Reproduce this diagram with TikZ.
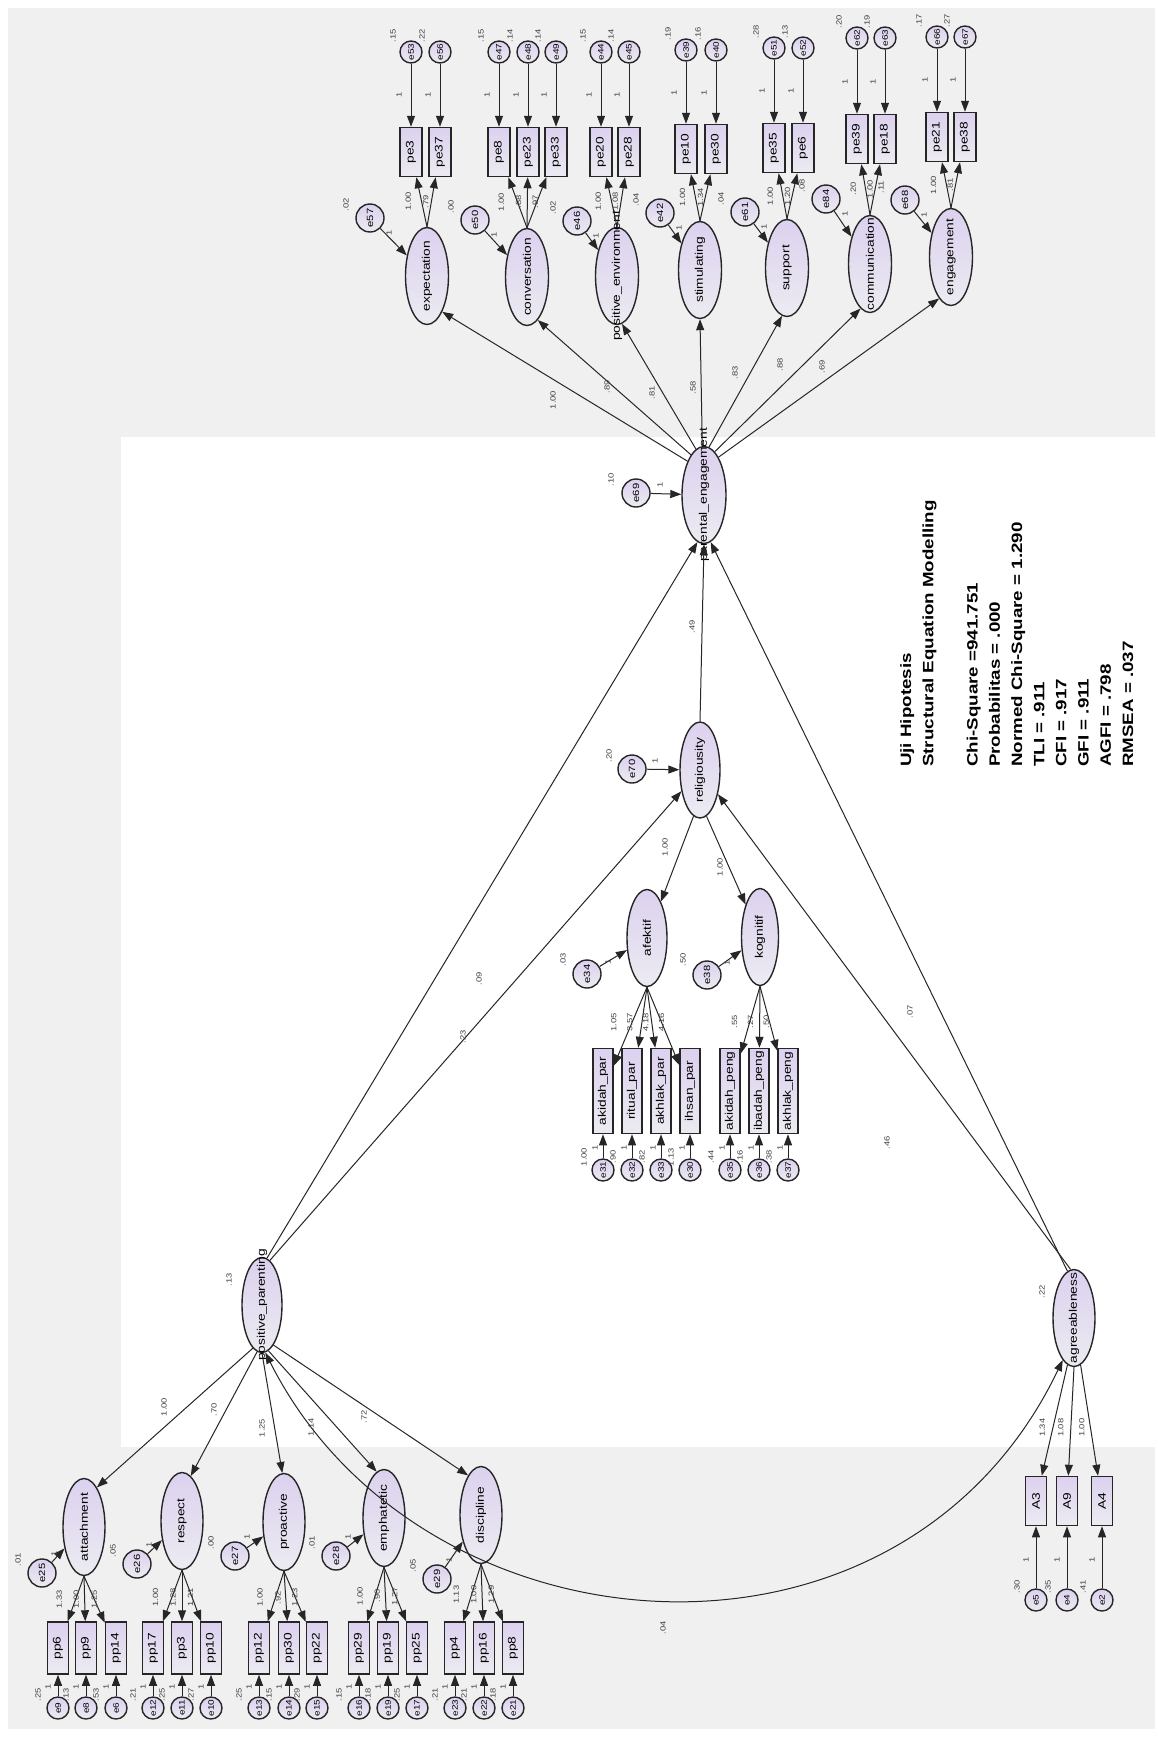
\documentclass[tikz,border=0pt]{standalone}
\usepackage{graphicx}
\usepackage{fontspec}
\setmainfont{Liberation Sans}
\usetikzlibrary{shapes.geometric,arrows.meta,calc}

\definecolor{fondo}{HTML}{F0F0F0}
\definecolor{lila}{HTML}{DCD1EF}
\definecolor{gris}{HTML}{ECEBF1}
\definecolor{trazo}{HTML}{262626}

% texto estirado como en la salida de AMOS
\newcommand{\est}[1]{\scalebox{1.25}[1]{#1}}
\newcommand{\nom}[1]{\makebox[0pt]{\est{#1}}}

\tikzset{
  lat/.style={ellipse, draw=trazo, line width=1.4pt, top color=lila, bottom color=gris,
    rotate=90, minimum width=97pt, minimum height=43pt, inner sep=0pt,
    font=\fontsize{11}{11}\selectfont},
  obs/.style={rectangle, draw=trazo, line width=1.5pt, top color=lila, bottom color=gris,
    rotate=90, minimum width=49pt, minimum height=22pt, inner sep=0pt,
    font=\fontsize{11}{11}\selectfont},
  err/.style={circle, draw=trazo, line width=1.4pt, top color=lila, bottom color=gris,
    rotate=90, minimum size=22pt, inner sep=0pt, font=\fontsize{8}{8}\selectfont},
  res/.style={err, minimum size=28pt, font=\fontsize{9}{9}\selectfont},
  lab/.style={rotate=90, inner sep=0pt, text=black!75,
    font=\fontsize{7.5}{7.5}\selectfont},
  flecha/.style={draw=trazo, line width=1pt, -{Triangle[length=11pt,width=8pt]}},
  cov/.style={draw=trazo, line width=1pt,
    {Triangle[length=11pt,width=8pt]}-{Triangle[length=11pt,width=8pt]}},
}

\begin{document}
\begin{tikzpicture}[x=1pt, y=-1pt]
  %——————————————————————————————————————————————
  % Fondo gris con la zona blanca central
  %——————————————————————————————————————————————
  \useasboundingbox (0,0) rectangle (1158,1740);
  \fill[white] (0,0) rectangle (1158,1740);
  \fill[fondo] (8,8) rectangle (1155,1729);
  \fill[white] (121,437) rectangle (1158,1447);

  %——————————————————————————————————————————————
  % parental_engagement y sus dimensiones
  %——————————————————————————————————————————————
  \node[lat, minimum height=44pt] (pe) at (704,495) {\nom{parental\_engagement}};
  \foreach \fa/\te/\x/\y in {expe/expectation/427/276, conv/conversation/527/277,
      posi/positive\_environment/617/276, stim/stimulating/700/270,
      supp/support/787/268, comm/communication/870/264, enga/engagement/951/257}
    \node[lat] (\fa) at (\x,\y) {\nom{\te}};

  % cargas de parental_engagement
  \foreach \fa/\an/\en/\lx/\ly/\ca in {expe/26/203/553/400/1.00, conv/18/194/607/387/.89,
      posi/10/186/652/393/.81, stim/2/180/693/388/.58, supp/-6/174/735/373/.83,
      comm/-14/168/780/365/.88, enga/-21/164/822/367/.69}
  {
    \draw[flecha] (pe.\an) -- (\fa.\en);
    \node[lab] at (\lx,\ly) {\est{\ca}};
  }

  % indicadores: factor/caja/x/y error/y caja/error/varianza/carga
  \foreach \fa/\bx/\x/\ye/\yb/\er/\va/\ca in {
      expe/pe3/411/52/152/e53/.15/1.00, expe/pe37/440/52/152/e56/.22/.79,
      conv/pe8/499/52/152/e47/.15/1.00, conv/pe23/528/52/152/e48/.14/.88,
      conv/pe33/556/52/152/e49/.14/.97,
      posi/pe20/601/52/152/e44/.15/1.00, posi/pe28/629/52/152/e45/.14/1.08,
      stim/pe10/686/50/149/e39/.19/1.00, stim/pe30/716/50/149/e40/.16/1.34,
      supp/pe35/774/48/148/e51/.28/1.00, supp/pe6/803/48/148/e52/.13/1.20,
      comm/pe39/857/38/139/e62/.20/.20, comm/pe18/885/38/139/e63/.19/1.00,
      enga/pe21/937/37/137/e66/.17/1.00, enga/pe38/965/37/137/e67/.27/.81}
  {
    \node[obs] (\bx) at (\x,\yb) {\nom{\bx}};
    \node[err] (\er) at (\x,\ye) {\nom{\er}};
    \draw[flecha] (\er) -- (\bx);
    \draw[flecha] (\fa.east) -- (\bx);
    \node[lab] at ({\x-12},{0.5*(\ye+\yb)-7}) {\est{1}};
    \node[lab] at ({\x-18},{\ye-16}) {\est{\va}};
    \node[lab] at ($(\bx)!0.4!(\fa)+(-9,0)$) {\est{\ca}};
  }

  % errores de las dimensiones
  \foreach \er/\fa/\x/\y/\va in {e57/expe/370/218/.02, e50/conv/475/220/.00,
      e46/posi/577/221/.02, e42/stim/660/213/.04, e61/supp/745/212/.04,
      e84/comm/826/199/.08, e68/enga/905/200/.11}
  {
    \node[res] (\er) at (\x,\y) {\nom{\er}};
    \draw[flecha] (\er) -- (\fa);
    \node[lab] at ({\x-24},{\y-13}) {\est{\va}};
    \node[lab] at ({\x+19},{\y+15}) {\est{1}};
  }

  \node[res] (e69) at (636,493) {\nom{e69}};
  \draw[flecha] (e69) -- (pe);
  \node[lab] at (611,480) {\est{.10}};
  \node[lab] at (660,485) {\est{1}};

  %——————————————————————————————————————————————
  % religiousity: afektif y kognitif
  %——————————————————————————————————————————————
  \node[lat, minimum height=40pt, minimum width=96pt] (rel) at (700,770) {\nom{religiousity}};
  \node[res] (e70) at (632,769) {\nom{e70}};
  \draw[flecha] (e70) -- (rel);
  \node[lab] at (609,756) {\est{.20}};
  \node[lab] at (655,761) {\est{1}};

  \node[lat, minimum height=40pt] (afe) at (647,938) {\nom{afektif}};
  \node[lat, minimum height=37pt] (kog) at (760,937) {\nom{kognitif}};
  \draw[flecha] (rel.172) -- (afe);
  \draw[flecha] (rel.188) -- (kog);
  \node[lab] at (665,847) {\est{1.00}};
  \node[lab] at (720,867) {\est{1.00}};

  \node[res] (e34) at (587,974) {\nom{e34}};
  \draw[flecha] (e34) -- (afe);
  \node[lab] at (563,960) {\est{.03}};
  \node[lab] at (608,962) {\est{1}};
  \node[res] (e38) at (707,975) {\nom{e38}};
  \draw[flecha] (e38) -- (kog);
  \node[lab] at (683,960) {\est{.50}};
  \node[lab] at (727,963) {\est{1}};

  \foreach \fa/\bx/\te/\x/\er/\va/\ca in {
      afe/akp/akidah\_par/603/e31/1.00/1.05, afe/rip/ritual\_par/632/e32/.90/3.57,
      afe/ahp/akhlak\_par/661/e33/.82/4.18, afe/ihp/ihsan\_par/690/e30/1.13/4.16,
      kog/akg/akidah\_peng/730/e35/.44/.55, kog/ibg/ibadah\_peng/759/e36/.16/.27,
      kog/ahg/akhlak\_peng/788/e37/.38/.50}
  {
    \node[obs, minimum width=85pt, minimum height=20pt] (\bx) at (\x,1091) {\nom{\te}};
    \node[err] (\er) at (\x,1170) {\nom{\er}};
    \draw[flecha] (\er) -- (\bx);
    \draw[flecha] (\fa.west) -- (\bx);
    \node[lab] at ({\x-8},1148) {\est{1}};
    \node[lab] at ({\x-19},1157) {\est{\va}};
    \node[lab] at ($(\bx)!0.45!(\fa)+(-9,0)$) {\est{\ca}};
  }

  %——————————————————————————————————————————————
  % positive_parenting y sus dimensiones
  %——————————————————————————————————————————————
  \node[lat, minimum height=40pt, minimum width=95pt] (pp) at (262,1305) {\nom{positive\_parenting}};
  \node[lab] at (229,1280) {\est{.13}};
  \foreach \fa/\te/\x/\y/\an/\en/\lx/\ly/\ca in {
      att/attachment/84/1527/168/-18/164/1407/1.00,
      resp/respect/182/1521/174/-11/214/1410/.70,
      proa/proactive/284/1522/180/2/262/1428/1.25,
      emph/emphatetic/384/1518/188/9/311/1427/1.14,
      disc/discipline/481/1515/196/18/364/1417/.72}
  {
    \node[lat, minimum height=42pt] (\fa) at (\x,\y) {\nom{\te}};
    \draw[flecha] (pp.\an) -- (\fa.\en);
    \node[lab] at (\lx,\ly) {\est{\ca}};
  }

  \foreach \fa/\bx/\x/\er/\va/\ca in {
      att/pp6/58/e9/.25/1.33, att/pp9/86/e8/.13/1.00, att/pp14/116/e6/.53/1.25,
      resp/pp17/153/e12/.21/1.00, resp/pp3/182/e11/.25/1.28, resp/pp10/211/e10/.27/1.21,
      proa/pp12/259/e13/.25/1.00, proa/pp30/289/e14/.15/.92, proa/pp22/317/e15/.29/1.23,
      emph/pp29/359/e16/.15/1.00, emph/pp19/388/e19/.18/.90, emph/pp25/417/e17/.25/1.27,
      disc/pp4/455/e23/.21/1.13, disc/pp16/484/e22/.21/1.00, disc/pp8/513/e21/.18/1.29}
  {
    \node[obs, minimum width=52pt, minimum height=21pt] (\bx) at (\x,1648) {\nom{\bx}};
    \node[err] (\er) at (\x,1708) {\nom{\er}};
    \draw[flecha] (\er) -- (\bx);
    \draw[flecha] (\fa.west) -- (\bx);
    \node[lab] at ({\x-10},1687) {\est{1}};
    \node[lab] at ({\x-20},1695) {\est{\va}};
    \node[lab] at ($(\bx)!0.4!(\fa)+(-9,0)$) {\est{\ca}};
  }

  \foreach \er/\fa/\x/\y/\va in {e25/att/42/1573/.01, e26/resp/137/1564/.05,
      e27/proa/235/1556/.00, e28/emph/336/1556/.01, e29/disc/437/1579/.05}
  {
    \node[res] (\er) at (\x,\y) {\nom{\er}};
    \draw[flecha] (\er) -- (\fa);
    \node[lab] at ({\x-24},{\y-13}) {\est{\va}};
    \node[lab] at ({\x+12},{\y-19}) {\est{1}};
  }

  %——————————————————————————————————————————————
  % agreeableness
  %——————————————————————————————————————————————
  \node[lat, minimum height=42pt] (agr) at (1074,1318) {\nom{agreeableness}};
  \node[lab] at (1042,1292) {\est{.22}};
  \foreach \bx/\x/\er/\va/\an/\ca in {A3/1036/e5/.30/172/1.34, A9/1067/e4/.35/180/1.08,
      A4/1102/e2/.41/188/1.00}
  {
    \node[obs, minimum height=21pt] (\bx) at (\x,1501) {\nom{\bx}};
    \node[err] (\er) at (\x,1600) {\nom{\er}};
    \draw[flecha] (\er) -- (\bx);
    \draw[flecha] (agr.\an) -- (\bx);
    \node[lab] at ({\x-10},1560) {\est{1}};
    \node[lab] at ({\x-19},1587) {\est{\va}};
    \node[lab] at ($(\bx)!0.4!(agr)+(-9,0)$) {\est{\ca}};
  }

  %——————————————————————————————————————————————
  % Modelo estructural
  %——————————————————————————————————————————————
  \draw[flecha] (pp.-6) -- (pe.172);
  \draw[flecha] (pp.-10) -- (rel);
  \draw[flecha] (agr.8) -- (pe.188);
  \draw[flecha] (agr.4) -- (rel);
  \draw[flecha] (rel.east) -- (pe.west);
  \draw[cov] (pp.184) .. controls (420,1660) and (900,1700) .. (agr.165);
  \node[lab] at (479,979) {\est{.09}};
  \node[lab] at (463,1037) {\est{.23}};
  \node[lab] at (910,1012) {\est{.07}};
  \node[lab] at (887,1143) {\est{.46}};
  \node[lab] at (692,627) {\est{.49}};
  \node[lab] at (663,1628) {\est{.04}};

  %——————————————————————————————————————————————
  % Indices de ajuste
  %——————————————————————————————————————————————
  \node[rotate=90, anchor=north west, inner sep=0pt, align=left,
        font=\fontsize{15}{22.2}\selectfont\bfseries] (ajuste) at (900,767)
    {\est{Uji Hipotesis}\\ \est{Structural Equation Modelling}\\[22.2pt]
     \est{Chi-Square =941.751}\\ \est{Probabilitas = .000}\\
     \est{Normed Chi-Square = 1.290}\\ \est{TLI = .911}\\ \est{CFI = .917}\\
     \est{GFI = .911}\\ \est{AGFI = .798}\\ \est{RMSEA = .037}};
\end{tikzpicture}
\end{document}
